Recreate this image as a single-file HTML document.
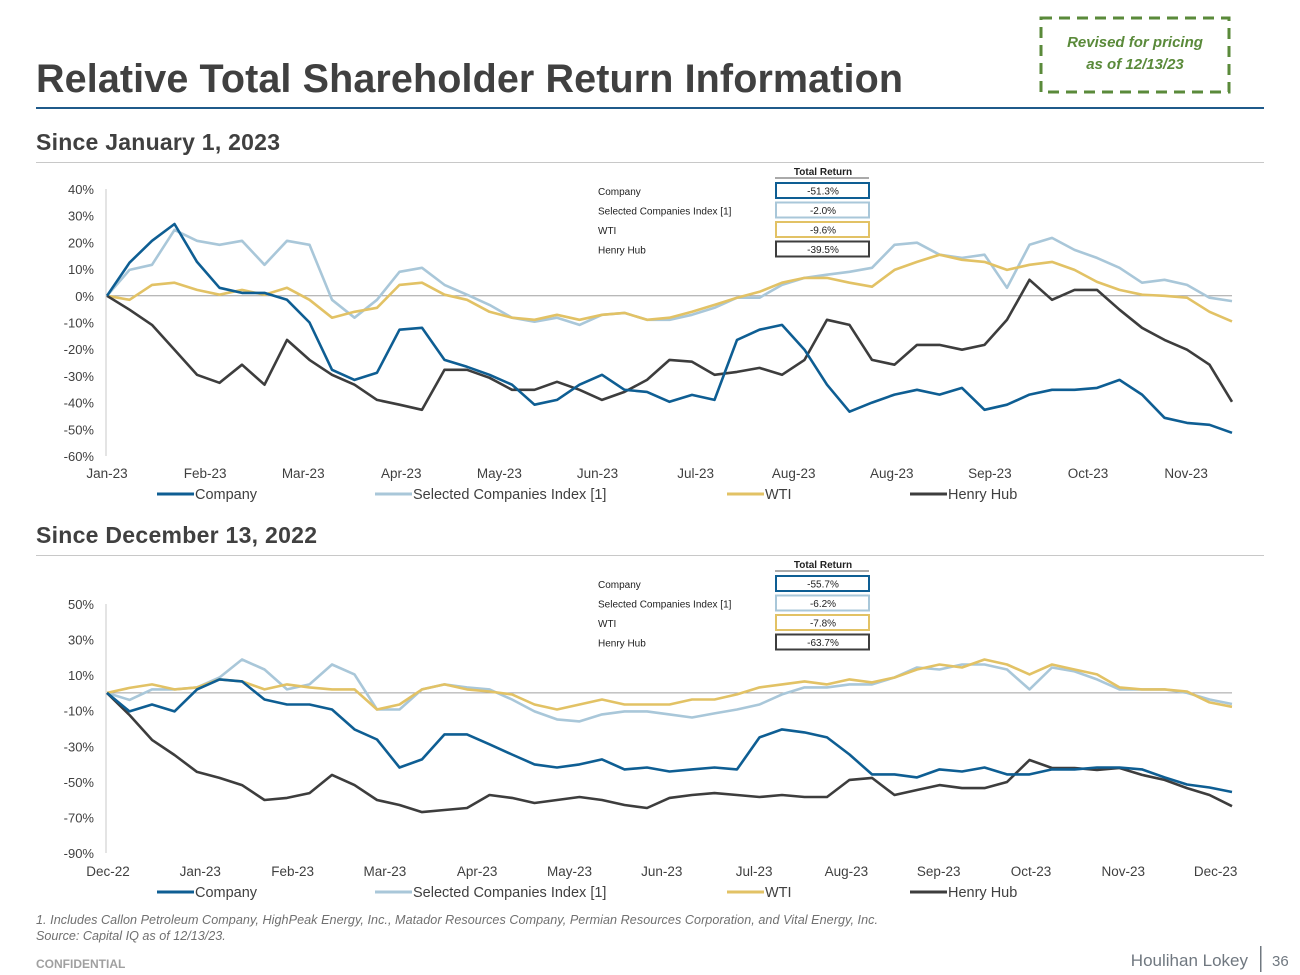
<!DOCTYPE html>
<html><head><meta charset="utf-8">
<style>
html,body{margin:0;padding:0;background:#fff;}
svg{display:block;font-family:"Liberation Sans",Arial,sans-serif;}
</style></head>
<body>
<svg id="root" width="1300" height="975" viewBox="0 0 1300 975" xmlns="http://www.w3.org/2000/svg">
  <text x="36" y="92" font-size="39.5" font-weight="bold" fill="#404040" textLength="867">Relative Total Shareholder Return Information</text>
  <rect x="1041" y="18" width="188" height="74" fill="none" stroke="#5a8a3a" stroke-width="3" stroke-dasharray="11,7"/>
  <text x="1135" y="47" font-size="15" font-weight="bold" font-style="italic" fill="#5a8a3a" text-anchor="middle">Revised for pricing</text>
  <text x="1135" y="69" font-size="15" font-weight="bold" font-style="italic" fill="#5a8a3a" text-anchor="middle">as of 12/13/23</text>
  <rect x="36" y="107" width="1228" height="2" fill="#1f5a8a"/>

  <text x="36" y="150" font-size="23" font-weight="bold" fill="#404040" textLength="244">Since January 1, 2023</text>
  <rect x="36" y="162" width="1228" height="1" fill="#c8c8c8"/>
  <g id="chart1"></g>

  <text x="36" y="543" font-size="23" font-weight="bold" fill="#404040" textLength="281">Since December 13, 2022</text>
  <rect x="36" y="555" width="1228" height="1" fill="#c8c8c8"/>
  <g id="chart2"></g>

  <text x="36" y="924" font-size="12.6" font-style="italic" fill="#707070" textLength="842">1.  Includes Callon Petroleum Company, HighPeak Energy, Inc., Matador Resources Company, Permian Resources Corporation, and Vital Energy, Inc.</text>
  <text x="36" y="940" font-size="12.6" font-style="italic" fill="#707070">Source: Capital IQ as of 12/13/23.</text>
  <text x="36" y="968" font-size="12" font-weight="bold" fill="#a0a0a0">CONFIDENTIAL</text>
  <text x="1248" y="966" font-size="17" fill="#707880" text-anchor="end">Houlihan Lokey</text>
  <rect x="1260" y="946" width="1.5" height="26" fill="#707880"/>
  <text x="1272" y="966" font-size="15" fill="#707880">36</text>
</svg>
<script>
const seriesNames = ["Company","Selected Companies Index [1]","WTI","Henry Hub"];
const seriesColors = ["#0e5e93","#a9c7d9","#e2c265","#3d3d3d"];

const c1Company = [0,12.4,20.6,26.9,12.7,3,1.1,1.1,-1.5,-10,-27.7,-31.5,-28.8,-12.7,-12,-24,-26.6,-29.6,-33.3,-40.8,-39,-33.3,-29.6,-35.2,-36,-39.7,-37.1,-39,-16.5,-12.7,-10.9,-20.2,-33.3,-43.4,-40,-37,-35.2,-37,-34.5,-42.7,-40.8,-37,-35.2,-35.2,-34.5,-31.5,-37,-45.7,-47.6,-48.3,-51.3];
const c1Selected = [0,9.7,11.6,24.7,20.6,19.1,20.6,11.6,20.6,19.1,-1.5,-8.2,-1.5,9,10.5,4.1,0.4,-3.4,-8.2,-9.7,-8.2,-10.9,-7.1,-6.4,-9,-9,-7.1,-4.5,-0.7,-0.7,4.1,6.7,7.9,9,10.5,19.1,19.9,15.4,14.2,15.4,3,19.1,21.7,17.2,14.2,10.5,4.9,6,4.1,-0.7,-2];
const c1WTI = [0,-1.5,4.1,4.9,2.2,0.4,2.2,0.4,3,-1.5,-8.2,-6,-4.5,4.1,4.9,0.4,-1.5,-6,-8.2,-9,-7.1,-9,-7.1,-6.4,-9,-8.2,-6,-3.4,-0.7,1.5,4.9,6.7,6.7,4.9,3.4,9.7,12.7,15.4,13.5,12.7,9.7,11.6,12.7,9.7,5.2,2.2,0.4,0,-0.7,-6,-9.6];
const c1Henry = [0,-5.2,-10.9,-20.2,-29.6,-32.6,-25.8,-33.3,-16.5,-24,-29.6,-33.3,-39,-40.8,-42.7,-27.7,-27.7,-30.7,-35.2,-35.2,-32.2,-35.2,-39,-36,-31.5,-24,-24.7,-29.6,-28.5,-27,-29.6,-24,-9,-10.9,-24,-25.8,-18.4,-18.4,-20.2,-18.4,-9,6,-1.5,2.2,2.2,-5.2,-12,-16.5,-20.2,-25.8,-39.7];
const c1Ticks = [40,30,20,10,0,-10,-20,-30,-40,-50,-60];
const c1XLabels = ["Jan-23","Feb-23","Mar-23","Apr-23","May-23","Jun-23","Jul-23","Aug-23","Aug-23","Sep-23","Oct-23","Nov-23"];
const c1Returns = ["-51.3%","-2.0%","-9.6%","-39.5%"];

const c2Company = [0,-10.4,-6.5,-10.4,2,7.6,6.5,-3.7,-6.5,-6.5,-9.3,-20.5,-26.2,-41.9,-37.4,-23.3,-23.3,-28.9,-34.6,-40.2,-41.9,-40.2,-37.4,-43,-41.9,-44.2,-43,-41.9,-43,-25,-20.5,-22.2,-25,-34.6,-45.8,-45.8,-47.5,-43,-44.2,-41.9,-45.8,-45.8,-43,-43,-41.9,-41.9,-43,-47.5,-51.5,-53.2,-55.7];
const c2Selected = [0,-3.9,2,2,3.1,8.7,18.8,13.2,2,4.8,16,10.4,-9.3,-9.3,2,4.8,3.1,2,-3.7,-10.4,-14.9,-16,-12.1,-10.4,-10.4,-12.1,-13.8,-11.5,-9.3,-6.5,-0.8,3.1,3.1,4.8,4.8,8.7,14.3,13.2,16,16,13.2,2,14.3,12.1,7.6,2,2,2,0,-3.7,-6.2];
const c2WTI = [0,2.8,4.8,2,3.1,7.6,6.5,2,4.8,3.1,2,2,-9.3,-6.5,2,4.8,2,0.8,-0.8,-6.5,-9.3,-6.5,-3.7,-6.5,-6.5,-6.5,-3.7,-3.7,-0.8,3.1,4.8,6.5,4.8,7.6,5.9,8.7,13.2,16,14.3,18.8,16,10.4,16,13.2,10.4,3.1,2,2,0.8,-5.3,-7.8];
const c2Henry = [0,-12.4,-26.4,-34.9,-44.4,-47.8,-51.8,-60.2,-59,-56.3,-46.1,-51.8,-60.2,-63,-67,-65.8,-64.7,-57.4,-59,-61.9,-60.2,-58.5,-60.2,-63,-64.7,-59,-57.4,-56.3,-57.4,-58.5,-57.4,-58.5,-58.5,-48.9,-47.8,-57.4,-54.6,-51.8,-53.5,-53.5,-50.1,-37.7,-42.2,-42.2,-43.3,-42.2,-46.1,-48.9,-53.5,-57.4,-63.7];
const c2Ticks = [50,30,10,-10,-30,-50,-70,-90];
const c2XLabels = ["Dec-22","Jan-23","Feb-23","Mar-23","Apr-23","May-23","Jun-23","Jul-23","Aug-23","Sep-23","Oct-23","Nov-23","Dec-23"];
const c2Returns = ["-55.7%","-6.2%","-7.8%","-63.7%"];

const NS = "http://www.w3.org/2000/svg";
function mk(tag, attrs, parent){
  const e = document.createElementNS(NS, tag);
  for (const k in attrs) e.setAttribute(k, attrs[k]);
  parent.appendChild(e);
  return e;
}

function drawChart(g, cfg){
  const yScale = v => cfg.yTop + (cfg.yMax - v) / (cfg.yMax - cfg.yMin) * (cfg.yBot - cfg.yTop);
  const n = cfg.series[0].length;
  const xScale = i => cfg.x0 + i * (cfg.x1 - cfg.x0) / (n - 1);
  const ax = mk("line", {x1:106, x2:106, y1:cfg.yTop, y2:cfg.yBot, stroke:"#c8c8c8", "stroke-width":1}, g);
  
  
  cfg.ticks.forEach(t => {
    const tx = mk("text", {x:94, y:yScale(t)+5, "font-size":13, fill:"#404040", "text-anchor":"end"}, g);
    tx.textContent = t + "%";
    
    
  });
  const zl = mk("line", {x1:cfg.x0, x2:cfg.x1, y1:yScale(0), y2:yScale(0), stroke:"#a0a0a0", "stroke-width":1}, g);
  
  
  cfg.xLabels.forEach((l, i) => {
    const tx = mk("text", {x:cfg.xl0 + i*cfg.xlStep, y:cfg.xlY, "font-size":13.5, fill:"#404040", "text-anchor":"middle"}, g);
    tx.textContent = l;
    
    
  });
  const order = [1,2,3,0];
  order.forEach(s => {
    const d = cfg.series[s].map((v, i) => (i ? "L" : "M") + xScale(i).toFixed(1) + "," + yScale(v).toFixed(1)).join(" ");
    const p = mk("path", {d:d, fill:"none", stroke:seriesColors[s], "stroke-width":2.6, "stroke-linejoin":"round"}, g);
    
    
  });
  const lx = [157, 375, 727, 910];
  seriesNames.forEach((nm, s) => {
    const ln = mk("line", {x1:lx[s], x2:lx[s]+37, y1:cfg.legY-5, y2:cfg.legY-5, stroke:seriesColors[s], "stroke-width":3}, g);
    
    
    const tx = mk("text", {x:lx[s]+38, y:cfg.legY, "font-size":14.5, fill:"#404040"}, g);
    tx.textContent = nm;
    
    
  });
  const hd = mk("text", {x:823, y:cfg.tblY, "font-size":10, "font-weight":"bold", fill:"#222", "text-anchor":"middle"}, g);
  hd.textContent = "Total Return";
  
  
  const hl = mk("line", {x1:775, x2:869, y1:cfg.tblY+3, y2:cfg.tblY+3, stroke:"#555", "stroke-width":1}, g);
  
  
  cfg.returns.forEach((r, s) => {
    const by = cfg.tblY + 8 + s*19.5;
    const lb = mk("text", {x:598, y:by+12, "font-size":10, fill:"#222"}, g);
    lb.textContent = seriesNames[s];
    
    
    const bx = mk("rect", {x:776, y:by, width:93, height:15, fill:"#fff", stroke:seriesColors[s], "stroke-width":2}, g);
    
    
    const vt = mk("text", {x:823, y:by+11.5, "font-size":10, fill:"#222", "text-anchor":"middle"}, g);
    vt.textContent = r;
    
    
  });
}

drawChart(document.getElementById("chart1"), {
  series:[c1Company, c1Selected, c1WTI, c1Henry], ticks:c1Ticks, xLabels:c1XLabels, returns:c1Returns,
  yMax:40, yMin:-60, yTop:189, yBot:456, x0:107, x1:1232,
  xl0:107, xlStep:98.1, xlY:478, legY:499, tblY:175
});
drawChart(document.getElementById("chart2"), {
  series:[c2Company, c2Selected, c2WTI, c2Henry], ticks:c2Ticks, xLabels:c2XLabels, returns:c2Returns,
  yMax:50, yMin:-90, yTop:604, yBot:853, x0:107, x1:1232,
  xl0:108, xlStep:92.3, xlY:876, legY:897, tblY:568
});
</script>
</body></html>
